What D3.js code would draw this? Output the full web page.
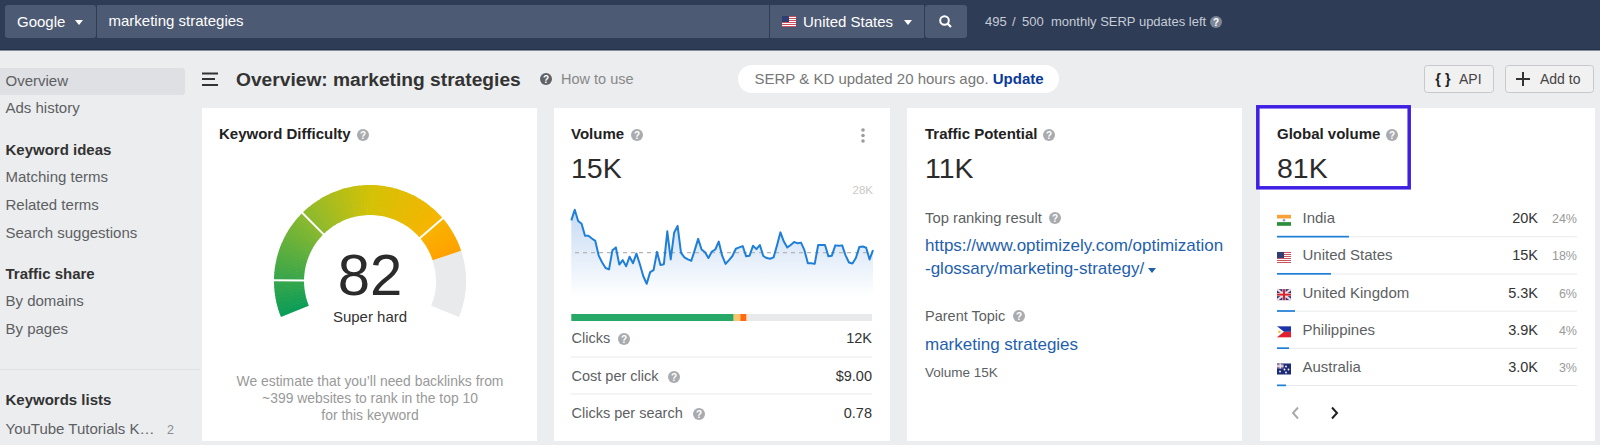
<!DOCTYPE html>
<html>
<head>
<meta charset="utf-8">
<title>Overview: marketing strategies</title>
<script src="https://cdn.jsdelivr.net/npm/d3@7"></script>
<style>
    html, body { margin: 0; padding: 0; background: #ecedef; overflow: hidden; }
    text { font-family: "Liberation Sans", Arial, sans-serif; }
</style>
</head>
<body>
<svg id="page" width="1600" height="445"></svg>
<script>
// values
const sidebarItems = ['Overview', 'Ads history', 'Keyword ideas', 'Matching terms', 'Related terms', 'Search suggestions', 'Traffic share', 'By domains', 'By pages', 'Keywords lists', 'YouTube Tutorials K\u2026'];
const sidebarHeadings = ['Keyword ideas', 'Traffic share', 'Keywords lists'];

const difficulty = 82;
const difficultyBands = [0, 10, 30, 72, 100];
const difficultyStops = [0, 10, 30, 50, 72, 82];
const difficultyColors = ['#0a9d58', '#38a64b', '#8cb92e', '#d3c206', '#f8b400', '#ffa000'];

const volumeTrend = [24.4, 27.5, 24.2, 23.4, 19.9, 19.9, 19.1, 18.4, 14.1, 12.1, 10.5, 10.1, 15.7, 16.5, 11.5, 12.8, 11.0, 13.8, 11.9, 14.7, 11.6, 8.1, 5.9, 9.3, 9.9, 15.2, 11.4, 11.6, 21.2, 13.0, 20.8, 22.8, 14.9, 13.6, 13.0, 12.6, 15.7, 19.0, 15.9, 15.1, 13.4, 15.3, 15.9, 18.2, 14.1, 11.7, 12.8, 14.0, 16.1, 16.5, 16.9, 13.9, 14.1, 17.0, 16.0, 17.2, 14.0, 13.4, 13.2, 13.6, 17.1, 20.9, 18.2, 16.5, 17.2, 18.1, 17.7, 17.9, 15.7, 11.9, 11.9, 11.7, 17.2, 17.2, 17.2, 13.9, 14.1, 17.1, 17.0, 17.1, 14.2, 12.1, 11.8, 13.4, 16.6, 16.8, 16.4, 13.0, 15.7];
const volumeAverage = 15;
const volumeMax = 28;

const clickShares = [54, 2.2, 2, 0.4, 41.4];
const clickShareColors = ['#27a866', '#f9c56c', '#ff6a0d', '#f7b98e', '#e8e9eb'];
const volumeRowLabels = ['Clicks', 'Cost per click', 'Clicks per search'];
const volumeRowValues = ['12K', '$9.00', '0.78'];

const countries = ['India', 'United States', 'United Kingdom', 'Philippines', 'Australia'];
const countryVolumes = ['20K', '15K', '5.3K', '3.9K', '3.0K'];
const countryShares = [24, 18, 6, 4, 3];

const svg = d3.select('#page');

function addText(parent, x, y, str, size, color, opts = {}) {
    return parent.append('text')
        .attr('x', x)
        .attr('y', y)
        .attr('font-size', size)
        .attr('fill', color)
        .attr('font-weight', opts.weight || 'normal')
        .attr('text-anchor', opts.anchor || 'start')
        .text(str);
}

function addBox(parent, x, y, w, h, fill, r = 0) {
    return parent.append('rect')
        .attr('x', x).attr('y', y)
        .attr('width', w).attr('height', h)
        .attr('rx', r)
        .attr('fill', fill);
}

function helpIcon(parent, x, y, fill = '#a9abaf') {
    parent.append('circle').attr('cx', x).attr('cy', y).attr('r', 6).attr('fill', fill);
    addText(parent, x, y + 3.5, '?', 10, '#fff', { anchor: 'middle', weight: 'bold' });
}

function caret(parent, x, y, fill) {
    parent.append('path')
        .attr('d', `M${x - 4},${y - 2}L${x + 4},${y - 2}L${x},${y + 3}Z`)
        .attr('fill', fill);
}

function usFlag(g) {
    addBox(g, 0, 0, 14, 11, '#fff');
    d3.range(0, 11, 2).forEach(i => addBox(g, 0, i, 14, 1, '#c9505c'));
    addBox(g, 0, 0, 7, 6, '#2f3f73');
}

const flags = {
    'India': g => {
        addBox(g, 0, 0, 14, 11, '#fff');
        addBox(g, 0, 0, 14, 3.7, '#f7a136');
        addBox(g, 0, 7.3, 14, 3.7, '#2c8f3c');
        g.append('circle').attr('cx', 7).attr('cy', 5.5).attr('r', 1.3).attr('fill', '#8c9cc4');
    },
    'United States': usFlag,
    'United Kingdom': g => {
        addBox(g, 0, 0, 14, 11, '#27357e');
        g.append('path').attr('d', 'M0,0L14,11M14,0L0,11').attr('stroke', '#f3d6d6').attr('stroke-width', 2);
        addBox(g, 5.5, 0, 3, 11, '#fff');
        addBox(g, 0, 4, 14, 3, '#fff');
        addBox(g, 6, 0, 2, 11, '#d8232f');
        addBox(g, 0, 4.5, 14, 2, '#d8232f');
    },
    'Philippines': g => {
        addBox(g, 0, 0, 14, 5.5, '#1c34a8');
        addBox(g, 0, 5.5, 14, 5.5, '#e0202c');
        g.append('path').attr('d', 'M0,0L7,5.5L0,11Z').attr('fill', '#fff');
        g.append('circle').attr('cx', 2.4).attr('cy', 5.5).attr('r', 1.3).attr('fill', '#f7c740');
    },
    'Australia': g => {
        addBox(g, 0, 0, 14, 11, '#1c2a78');
        addBox(g, 0, 0, 6.5, 5, '#8d7fa8');
        addBox(g, 2.5, 0, 1.5, 5, '#e8e0e8');
        addBox(g, 0, 1.8, 6.5, 1.5, '#e8e0e8');
        [[3, 8], [9, 3], [11.5, 6], [9, 9], [7.5, 6]].forEach(p => {
            g.append('circle').attr('cx', p[0]).attr('cy', p[1]).attr('r', 0.9).attr('fill', '#fff');
        });
    }
};

// top bar
function drawHeader() {
    const g = svg.append('g');
    addBox(g, 0, 0, 1600, 50, '#2e3c56');
    addBox(g, 0, 49, 1600, 1.5, '#223350');
    addBox(g, 5, 5, 91, 33, '#4d5a73', 3);
    addBox(g, 97, 5, 672, 33, '#4d5a73');
    addBox(g, 770, 5, 154, 33, '#4d5a73');
    addBox(g, 925, 5, 42, 33, '#4d5a73', 3);
    addText(g, 17, 27, 'Google', 15, '#fff');
    caret(g, 79, 22, '#fff');
    addText(g, 108.5, 26, 'marketing strategies', 15, '#fff');
    usFlag(g.append('g').attr('transform', 'translate(782,16)'));
    addText(g, 803, 27, 'United States', 15, '#fff');
    caret(g, 908, 22, '#fff');
    g.append('circle').attr('cx', 944.5).attr('cy', 20.5).attr('r', 4.3)
        .attr('fill', 'none').attr('stroke', '#fff').attr('stroke-width', 2);
    g.append('path').attr('d', 'M947.5,23.5L951,27').attr('stroke', '#fff').attr('stroke-width', 2.2);
    addText(g, 985, 26, '495', 13, '#c6ccd6');
    addText(g, 1012, 26, '/', 13, '#c6ccd6');
    addText(g, 1022, 26, '500', 13, '#c6ccd6');
    addText(g, 1051, 26, 'monthly SERP updates left', 13, '#c6ccd6');
    helpIcon(g, 1216, 22, '#7d8798');
}

function drawSidebar() {
    const g = svg.append('g');
    const rowY = [86, 113, 154.5, 182, 210, 237.5, 278.5, 306, 334, 405, 434];
    addBox(g, -4, 68, 189, 27, '#dfe0e3', 3);
    sidebarItems.forEach((item, i) => {
        const heading = sidebarHeadings.includes(item);
        addText(g, 5.5, rowY[i], item, 15, heading ? '#333' : '#5d5f63', { weight: heading ? 'bold' : 'normal' });
    });
    addText(g, 167, 434, '2', 12.5, '#8a8c90');
    addBox(g, 0, 369, 200, 1, '#dfe0e3');
}

function drawTitleRow() {
    const g = svg.append('g');
    [73.5, 79, 85].forEach((y, i) => addBox(g, 202, y - 1, i === 1 ? 13 : 16, 2, '#333'));
    addText(g, 236, 85.5, 'Overview: marketing strategies', 19.2, '#333', { weight: 'bold' });
    helpIcon(g, 546, 79, '#5f6266');
    addText(g, 561, 84, 'How to use', 14.5, '#888');
    addBox(g, 738, 65, 321, 28, '#fff', 14);
    const note = addText(g, 754.5, 84, 'SERP & KD updated 20 hours ago. ', 15, '#777');
    note.style('white-space', 'pre');
    note.append('tspan').attr('fill', '#0b3a9b').attr('font-weight', 'bold').text('Update');

    addBox(g, 1424.5, 65.5, 69, 27, '#f1f1f2', 3).attr('stroke', '#c6c8cc');
    addText(g, 1443, 84, '{ }', 14.5, '#222', { anchor: 'middle', weight: 'bold' });
    addText(g, 1459, 84, 'API', 14, '#444');
    addBox(g, 1505.5, 65.5, 88, 27, '#f1f1f2', 3).attr('stroke', '#c6c8cc');
    addBox(g, 1516, 78, 14, 2, '#333');
    addBox(g, 1522, 72, 2, 14, '#333');
    addText(g, 1540, 84, 'Add to', 14, '#444');
}

function drawDifficultyCard() {
    const g = svg.append('g');
    addBox(g, 202, 108, 335, 333, '#fff');
    addText(g, 219, 139, 'Keyword Difficulty', 15, '#222', { weight: 'bold' });
    helpIcon(g, 363, 135);

    const angle = d3.scaleLinear().domain([0, 100]).range([-112, 112].map(d => d * Math.PI / 180));
    const color = d3.scaleLinear().domain(difficultyStops).range(difficultyColors);
    const arc = d3.arc().innerRadius(66).outerRadius(96);
    const gauge = g.append('g').attr('transform', 'translate(370,281)');

    gauge.append('path')
        .attr('d', arc({ startAngle: angle(difficulty), endAngle: angle(100) }))
        .attr('fill', '#e9eaec');
    gauge.selectAll('path.slice')
        .data(d3.range(0, difficulty))
        .enter()
        .append('path')
        .attr('class', 'slice')
        .attr('d', d => arc({ startAngle: angle(d), endAngle: angle(Math.min(d + 1.2, difficulty)) }))
        .attr('fill', d => color(d + 0.5));
    // white gaps between difficulty bands
    gauge.selectAll('line')
        .data(difficultyBands.slice(1, -1))
        .enter()
        .append('line')
        .attr('x1', d => Math.sin(angle(d)) * 64)
        .attr('y1', d => -Math.cos(angle(d)) * 64)
        .attr('x2', d => Math.sin(angle(d)) * 98)
        .attr('y2', d => -Math.cos(angle(d)) * 98)
        .attr('stroke', '#fff')
        .attr('stroke-width', 2);

    addText(g, 370, 294.5, difficulty, 58, '#2b2b2b', { anchor: 'middle' });
    addText(g, 370, 322, 'Super hard', 15, '#333', { anchor: 'middle' });
    addText(g, 370, 386, 'We estimate that you\u2019ll need backlinks from', 13.9, '#999', { anchor: 'middle' });
    addText(g, 370, 403, '~399 websites to rank in the top 10', 13.9, '#999', { anchor: 'middle' });
    addText(g, 370, 420, 'for this keyword', 13.9, '#999', { anchor: 'middle' });
}

function drawVolumeCard() {
    const g = svg.append('g');
    addBox(g, 554, 108, 336, 333, '#fff');
    addText(g, 571, 139, 'Volume', 15, '#222', { weight: 'bold' });
    helpIcon(g, 637, 135);
    [130, 135.5, 141].forEach(y => g.append('circle').attr('cx', 863).attr('cy', y).attr('r', 1.8).attr('fill', '#9a9ca0'));
    addText(g, 571, 178, '15K', 28.5, '#2b2b2b');
    addText(g, 873, 194, volumeMax + 'K', 11.5, '#c8c8c8', { anchor: 'end' });

    const x = d3.scaleLinear().domain([0, volumeTrend.length - 1]).range([571.3, 873]);
    const y = d3.scaleLinear().domain([0, volumeMax]).range([304, 208]);

    const defs = svg.append('defs');
    const grad = defs.append('linearGradient').attr('id', 'volume-fill')
        .attr('gradientUnits', 'userSpaceOnUse')
        .attr('x1', 0).attr('x2', 0).attr('y1', y(volumeMax)).attr('y2', 297);
    grad.append('stop').attr('offset', 0).attr('stop-color', '#c4d9f2');
    grad.append('stop').attr('offset', 1).attr('stop-color', '#ffffff');

    g.append('path')
        .attr('d', d3.area().x((d, i) => x(i)).y0(y(0)).y1(d => y(d))(volumeTrend))
        .attr('fill', 'url(#volume-fill)');
    g.append('line')
        .attr('x1', 575).attr('x2', 873)
        .attr('y1', y(volumeAverage)).attr('y2', y(volumeAverage))
        .attr('stroke', '#b5b5b5').attr('stroke-width', 1.2).attr('stroke-dasharray', '4,4');
    g.append('path')
        .attr('d', d3.line().x((d, i) => x(i)).y(d => y(d))(volumeTrend))
        .attr('fill', 'none')
        .attr('stroke', '#1f7fd8')
        .attr('stroke-width', 2)
        .attr('stroke-linejoin', 'round');

    // clicks share bar
    const barX = d3.scaleLinear().domain([0, d3.sum(clickShares)]).range([571.3, 872]);
    const offsets = d3.cumsum([0].concat(clickShares));
    g.selectAll('rect.share')
        .data(clickShares)
        .enter()
        .append('rect')
        .attr('class', 'share')
        .attr('x', (d, i) => barX(offsets[i]))
        .attr('width', d => barX(d) - barX(0))
        .attr('y', 314)
        .attr('height', 7)
        .attr('fill', (d, i) => clickShareColors[i]);

    const rowBase = [343, 381, 418];
    const iconX = [624, 674, 699];
    volumeRowLabels.forEach((label, i) => {
        addText(g, 571.5, rowBase[i], label, 14.5, '#5d5f63');
        helpIcon(g, iconX[i], rowBase[i] - 4);
        addText(g, 872, rowBase[i], volumeRowValues[i], 14.5, '#333', { anchor: 'end' });
    });
    addBox(g, 571, 356.5, 301, 1, '#e9eaec');
    addBox(g, 571, 393.5, 301, 1, '#e9eaec');
}

function drawTrafficCard() {
    const g = svg.append('g');
    addBox(g, 907, 108, 335, 333, '#fff');
    addText(g, 925, 139, 'Traffic Potential', 15, '#222', { weight: 'bold' });
    helpIcon(g, 1049, 135);
    addText(g, 925, 178, '11K', 28.5, '#2b2b2b');
    addText(g, 925, 223, 'Top ranking result', 14.8, '#5d5f63');
    helpIcon(g, 1055, 218);
    addText(g, 925, 251, 'https://www.optimizely.com/optimization', 17, '#1f5fae');
    addText(g, 925, 274, '-glossary/marketing-strategy/', 17, '#1f5fae');
    caret(g, 1152, 270, '#1f5fae');
    addText(g, 925, 321, 'Parent Topic', 14.5, '#5d5f63');
    helpIcon(g, 1019, 316);
    addText(g, 925, 350, 'marketing strategies', 17, '#1f5fae');
    addText(g, 925, 377, 'Volume 15K', 13.5, '#5d5f63');
}

function drawGlobalCard() {
    const g = svg.append('g');
    addBox(g, 1260, 108, 335, 333, '#fff');
    addText(g, 1277, 139, 'Global volume', 15, '#222', { weight: 'bold' });
    helpIcon(g, 1392, 135);
    addText(g, 1277, 178, '81K', 28.5, '#2b2b2b');

    const rowY = d3.scalePoint().domain(countries).range([223.3, 372]);
    const share = d3.scaleLinear().domain([0, 100]).range([0, 300]);

    const rows = g.selectAll('g.country')
        .data(countries)
        .enter()
        .append('g')
        .attr('class', 'country')
        .attr('transform', d => `translate(0,${rowY(d)})`);

    rows.each(function(d, i) {
        const row = d3.select(this);
        flags[d](row.append('g').attr('transform', 'translate(1277,-8.5)'));
        addText(row, 1302.5, 0, d, 15, '#5d5f63');
        addText(row, 1538, 0, countryVolumes[i], 14.5, '#333', { anchor: 'end' });
        addText(row, 1577, 0, countryShares[i] + '%', 12.5, '#999', { anchor: 'end' });
        addBox(row, 1277, 13, 300, 1, '#e9eaec');
        addBox(row, 1277, 12.5, share(countryShares[i]), 1.7, '#1f7fd8');
    });

    g.append('path').attr('d', 'M1298,407.5L1293,413L1298,418.5')
        .attr('fill', 'none').attr('stroke', '#aaa').attr('stroke-width', 2);
    g.append('path').attr('d', 'M1332,407.5L1337,413L1332,418.5')
        .attr('fill', 'none').attr('stroke', '#222').attr('stroke-width', 2);

    // highlight box around the global volume
    g.append('rect')
        .attr('x', 1257.8).attr('y', 106.8)
        .attr('width', 151.4).attr('height', 81)
        .attr('fill', 'none')
        .attr('stroke', '#3f1fe3')
        .attr('stroke-width', 3.5);
}

drawHeader();
drawSidebar();
drawTitleRow();
drawDifficultyCard();
drawVolumeCard();
drawTrafficCard();
drawGlobalCard();
</script>
</body>
</html>
